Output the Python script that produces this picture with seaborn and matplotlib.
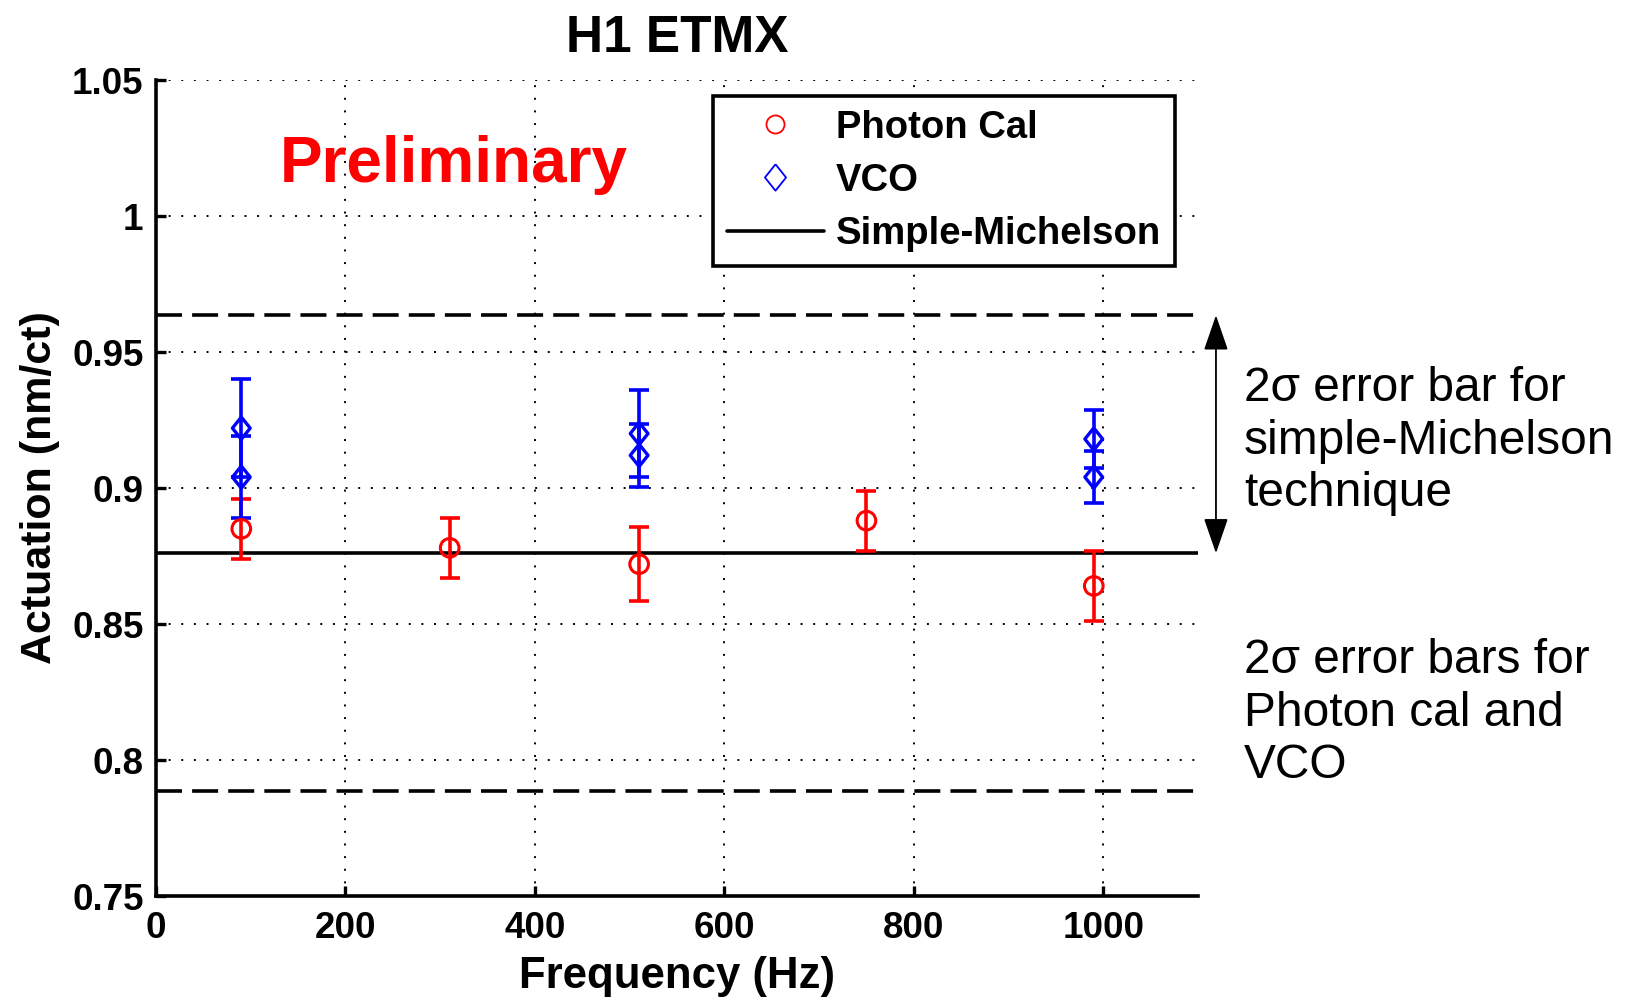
import matplotlib
matplotlib.use("Agg")
import matplotlib.pyplot as plt
import seaborn as sns
import pandas as pd
from matplotlib.lines import Line2D
from matplotlib.ticker import FixedLocator, FixedFormatter

# ---------------- data ----------------
photon_freq = [90, 310, 510, 750, 990]
photon_val = [0.885, 0.878, 0.872, 0.888, 0.864]
photon_err = [0.011, 0.011, 0.0135, 0.011, 0.013]

vco_freq = [90, 90, 510, 510, 990, 990]
vco_val = [0.922, 0.904, 0.920, 0.912, 0.918, 0.904]
vco_err = [0.018, 0.015, 0.016, 0.0115, 0.0105, 0.0095]

michelson_val = 0.876
michelson_err2 = 0.0875

x_ticks = [0, 200, 400, 600, 800, 1000]
y_ticks = [0.75, 0.80, 0.85, 0.90, 0.95, 1.00, 1.05]
y_tick_labels = ["0.75", "0.8", "0.85", "0.9", "0.95", "1", "1.05"]

# ---------------- style ----------------
sns.set_theme(style="white")
plt.rcParams["font.family"] = ["Liberation Sans", "DejaVu Sans"]
plt.rcParams["text.color"] = "black"
plt.rcParams["axes.labelcolor"] = "black"
plt.rcParams["xtick.color"] = "black"
plt.rcParams["ytick.color"] = "black"

diamond = [(0, 1), (0.8, 0), (0, -1), (-0.8, 0), (0, 1)]

fig = plt.figure(figsize=(16.29, 10), dpi=100)
ax = fig.add_axes([0.0958, 0.104, 0.6396, 0.816])

photon_df = pd.DataFrame({"f": photon_freq, "a": photon_val})
vco_df = pd.DataFrame({"f": vco_freq, "a": vco_val})

# reference lines
ax.axhline(michelson_val, color="black", lw=2.6, zorder=2)
for v in (michelson_val + michelson_err2, michelson_val - michelson_err2):
    ax.axhline(v, color="black", lw=2.6, linestyle=(0, (7.2, 2.8)), zorder=2)

# error bars
ax.errorbar(photon_freq, photon_val, yerr=photon_err, fmt="none", ecolor="red",
            elinewidth=2.6, capsize=7.5, capthick=2.6, zorder=3)
ax.errorbar(vco_freq, vco_val, yerr=vco_err, fmt="none", ecolor="blue",
            elinewidth=2.6, capsize=7.5, capthick=2.6, zorder=3)

# markers
sns.scatterplot(data=photon_df, x="f", y="a", ax=ax, marker="o", s=180,
                facecolors="none", edgecolors="red", linewidths=2.2, zorder=4,
                legend=False)
sns.scatterplot(data=vco_df, x="f", y="a", ax=ax, marker=diamond, s=256,
                facecolors="none", edgecolors="blue", linewidths=2.4, zorder=4,
                legend=False)

# axes
ax.set_xlim(0, 1100)
ax.set_ylim(0.75, 1.05)
ax.xaxis.set_major_locator(FixedLocator(x_ticks))
ax.yaxis.set_major_locator(FixedLocator(y_ticks))
ax.yaxis.set_major_formatter(FixedFormatter(y_tick_labels))
ax.grid(True, color="black", linestyle=(0, (1, 5.5)), linewidth=1.4)
for side in ("top", "right"):
    ax.spines[side].set_visible(False)
for side in ("left", "bottom"):
    ax.spines[side].set_color("black")
    ax.spines[side].set_linewidth(2.6)
ax.tick_params(axis="both", direction="in", length=7, width=2.4, color="black",
               labelsize=26.5, labelcolor="black", bottom=True, left=True)
ax.tick_params(axis="y", pad=9)
ax.tick_params(axis="x", pad=11)
for lab in ax.get_xticklabels() + ax.get_yticklabels():
    lab.set_fontweight("bold")

ax.set_xlabel("Frequency (Hz)", fontsize=31.5, fontweight="bold", labelpad=7,
              color="black")
ax.set_ylabel("Actuation (nm/ct)", fontsize=31, fontweight="bold", labelpad=9,
              color="black")
ax.set_title("H1 ETMX", fontsize=37, fontweight="bold", pad=20, color="black")

# Preliminary
ax.text(0.119, 0.896, "Preliminary", transform=ax.transAxes, color="red",
        fontsize=46, fontweight="bold", ha="left", va="center")

# legend
handles = [
    Line2D([], [], marker="o", linestyle="none", markerfacecolor="none",
           markeredgecolor="red", markersize=13, markeredgewidth=1.3),
    Line2D([], [], marker=diamond, linestyle="none", markerfacecolor="none",
           markeredgecolor="blue", markersize=19, markeredgewidth=1.3),
    Line2D([], [], color="black", lw=2.6),
]
leg = ax.legend(handles, ["Photon Cal", "VCO", "Simple-Michelson"],
                loc="upper right", bbox_to_anchor=(0.9775, 0.9805),
                prop={"size": 27.5, "weight": "bold"}, frameon=True,
                fancybox=False, framealpha=1, edgecolor="black",
                handlelength=2.55, handletextpad=0.3, labelspacing=0.45,
                borderpad=0.36, borderaxespad=0)
leg.get_frame().set_linewidth(2.6)
for t in leg.get_texts():
    t.set_color("black")

# arrow for Simple-Michelson 2 sigma
ax.annotate("", xy=(1119, michelson_val + michelson_err2),
            xytext=(1119, michelson_val),
            arrowprops=dict(arrowstyle="<|-|>,head_length=1.1,head_width=0.38",
                            color="black", lw=1.3, shrinkA=0, shrinkB=0,
                            mutation_scale=20),
            annotation_clip=False)

fig.text(0.7637, 0.559, "2\u03c3 error bar for\nsimple-Michelson\ntechnique",
         fontsize=34.5, ha="left", va="center", linespacing=1.22, color="black")
fig.text(0.7637, 0.287, "2\u03c3 error bars for\nPhoton cal and\nVCO",
         fontsize=34.5, ha="left", va="center", linespacing=1.22, color="black")

fig.savefig("out.png", dpi=100)
